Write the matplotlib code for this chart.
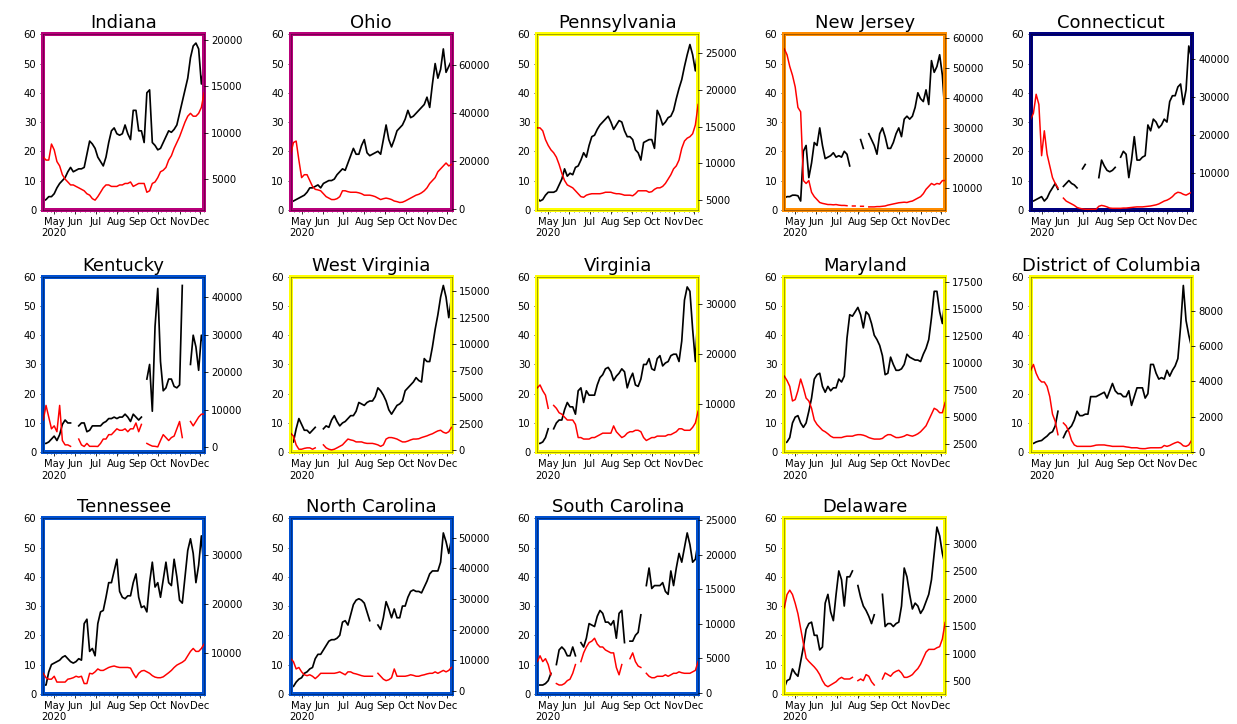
import numpy as np
import pandas as pd
import matplotlib
matplotlib.use('Agg')
import matplotlib.pyplot as plt
import matplotlib.dates as mdates
from matplotlib.ticker import MultipleLocator

nan = np.nan

# samples every 4 days, 2020-04-15 .. 2020-12-07
dates = pd.date_range('2020-04-15', periods=60, freq='4D')
month_ticks = pd.date_range('2020-05-01', '2020-12-01', freq='MS')
month_labels = ['May\n2020', 'Jun', 'Jul', 'Aug', 'Sep', 'Oct', 'Nov', 'Dec']

indiana_black = [3, 3.5, 4.5, 4.5, 5.5, 7.5, 9, 10, 11, 13, 14.5, 13, 13.5, 14, 14, 14.5, 19, 23.5, 22.5, 21,
                 18, 16.5, 15, 18, 23, 27, 28, 26, 25.5, 26, 29, 26, 24, 34, 34, 27, 27, 23, 40, 41,
                 23, 22, 20.5, 21, 23, 25, 27, 26.5, 27.5, 29, 33, 37, 41, 45, 52, 56, 57, 55, 43, 49]
indiana_red = [7370, 7050, 7050, 8780, 8150, 6890, 6420, 5470, 5000, 4690, 4370, 4370, 4210, 4060, 3900, 3740,
               3420, 3270, 2890, 2730, 3110, 3580, 4060, 4370, 4370, 4210, 4210, 4210, 4370, 4370, 4530, 4530,
               4690, 4210, 4370, 4530, 4530, 4530, 3580, 3740, 4530, 4690, 5160, 5790, 5950, 6260, 7050, 7520,
               8310, 8940, 9570, 10360, 11150, 11780, 12090, 11780, 11780, 12090, 12730, 14300]

ohio_black = [2.5, 3, 3.5, 4, 4.5, 5, 6, 7.5, 7.5, 8, 8.5, 7.5, 9, 9.5, 10, 10, 10.5, 12, 13, 14,
              13.5, 16, 18.5, 21, 19, 19, 22, 24, 19.5, 18.5, 19, 19.5, 20, 19, 24, 29, 24, 21.5, 24, 27,
              28, 29, 31, 34, 31.5, 32, 33, 34, 35, 36, 38.5, 35, 43, 50, 45, 48, 55, 47, 49, 51]
ohio_red = [22760, 27640, 28250, 20320, 13000, 14220, 14220, 11780, 9340, 8120, 7880, 7510, 6290, 5070, 4460,
            3850, 3850, 4220, 5070, 7510, 7510, 7140, 6900, 6900, 6900, 6660, 6290, 5680, 5680, 5680, 5440,
            5070, 4460, 3850, 4220, 4460, 4220, 3850, 3240, 2990, 2630, 2750, 3240, 3850, 4460, 5070, 5680,
            6050, 6660, 7510, 8730, 10560, 11780, 13000, 15440, 16660, 17880, 19100, 17880, 18490]

penn_black = [4, 3, 3.5, 5, 6, 6, 6, 6.5, 8.5, 10.5, 14, 11.5, 12.5, 12, 14.5, 15, 17, 19.5, 18, 22,
              25, 25.5, 27.5, 29, 30, 31, 32, 30, 27.5, 29, 30.5, 30, 27, 25, 25, 24, 20.5, 19.5, 17, 23,
              23.5, 24, 24, 21, 34, 32, 29, 30, 31.5, 32, 34, 38, 41.5, 44.5, 49, 53, 56.5, 53, 47.5, 56]
penn_red = [14840, 14840, 14440, 13240, 12450, 11850, 11450, 10850, 9860, 8660, 7670, 7070, 6870, 6670, 6270,
            5870, 5470, 5390, 5670, 5790, 5870, 5870, 5870, 5870, 5950, 6070, 6070, 6070, 5950, 5870, 5870,
            5790, 5670, 5670, 5670, 5590, 5870, 6270, 6270, 6270, 6270, 6070, 6150, 6470, 6670, 6670, 6870,
            7270, 7860, 8460, 9260, 9660, 10460, 12050, 13050, 13440, 13640, 14040, 15240, 18030]

nj_black = [4, 4.5, 4.5, 5, 5, 4.8, 3, 20, 22, 11, 16, 23, 22, 28, 22, 17.5, 18, 18.5, 19.5, 18,
            18.5, 18, 20, 19, 15, nan, 22, nan, 24, 21, nan, 26, 24, 22, 19, 26, 28, 25, 21, 21,
            23, 26, 28, 25, 31, 32, 31, 32, 35, 40, 38, 37, 41, 36, 51, 47, 49, 53, 46, 32]
nj_red = [56460, 54510, 50620, 47690, 43800, 36980, 35520, 12630, 11660, 12630, 8730, 7270, 6300, 5325, 5030,
          4840, 4640, 4640, 4550, 4640, 4450, 4350, 4350, 4250, nan, 4160, 4160, nan, 4060, 4060, nan, 3860,
          3860, 3860, 3960, 3960, 4060, 4160, 4450, 4640, 4840, 5030, 5230, 5325, 5420, 5325, 5620, 5810,
          6300, 6790, 7270, 8250, 9710, 10680, 11660, 11170, 11660, 11460, 12630, 12630]

ct_black = [3, 3, 3.5, 4, 4.5, 3, 4, 6, 7.5, 9, 7, nan, 8, 9, 10, 9, 8.5, 7.5, nan, 14,
            15.5, nan, nan, nan, nan, 11, 17, 15, 13.5, 13, 13.5, 14.5, nan, 18, 20, 19, 11, 17, 25, 17,
            17, 18, 18.5, 29, 27, 31, 30, 28, 29, 31, 30, 37, 39, 39, 42, 43, 36, 41, 56, 52]
ct_red = [24190, 25740, 30760, 28060, 14520, 21100, 14910, 11810, 8720, 7170, 6010, nan, 3300, 2530, 2140,
          1760, 1370, 830, 600, 440, 360, 360, 360, 360, 360, 1140, 1370, 1220, 980, 670, 600, 600, 600,
          600, 670, 670, 750, 830, 910, 980, 980, 980, 1060, 1140, 1220, 1370, 1520, 1760, 2140, 2530,
          2760, 3150, 3690, 4460, 4850, 4700, 4310, 4080, 4460, 4850]

ky_black = [3, 3, 3.5, 4.5, 5.5, 4, 6, 9.5, 11, 10, 10, nan, nan, 9, 10, 10, 7, 7.5, 9, 9,
            9, 9, 10, 10.5, 11.5, 11.5, 12, 11.5, 12, 12, 13, 12, 10.5, 13, 12, 11, 12, nan, 25, 30,
            14, 43, 56, 31, 21, 22, 25, 25, 22.5, 22, 23, 57, nan, nan, 30, 40, 36, 28, 40, 36]
ky_red = [7180, 11100, 7970, 4830, 5620, 4050, 11100, 1700, 530, 530, 140, nan, nan, 2090, 530, 100, 920,
          140, 140, 140, 100, 920, 2090, 2090, 3270, 3270, 4050, 4830, 4440, 4440, 4830, 4050, 4830, 4830,
          6400, 4050, 6010, nan, 920, 530, 200, 140, 0, 1700, 3270, 2490, 1700, 2490, 2880, 4830, 6790,
          2490, nan, nan, 6790, 5620, 6790, 7970, 8750, 8750]

wv_black = [3, 3.5, 8, 11.5, 9.5, 7.5, 7.5, 6.5, 7.5, 8.5, nan, nan, 8, 9, 8.5, 11, 12.5, 10.5, 9, 10,
            10.5, 11.5, 12.5, 12.5, 14, 17, 16.5, 16, 17, 17.5, 17.5, 19, 22, 21, 19.5, 17.5, 14.5, 13, 14.5, 16,
            16.5, 17.5, 21, 22, 23, 24, 25.5, 24.5, 24, 32, 31, 31, 36, 42, 47, 53, 57, 53, 46, 53]
wv_red = [1600, 1330, 500, 90, 90, 170, 220, 220, 90, 220, nan, nan, 500, 220, 90, 30, 90, 220, 360, 500,
          780, 1050, 970, 910, 780, 780, 780, 690, 640, 640, 640, 580, 500, 360, 500, 1050, 1190, 1190, 1130,
          1050, 910, 780, 780, 860, 970, 1050, 1050, 1080, 1190, 1270, 1350, 1460, 1550, 1690, 1820, 1880,
          1690, 1600, 1740, 2150]

va_black = [3, 3, 3.5, 5, 8, nan, 8, 10, 11, 11, 14.5, 17, 15.5, 15.5, 13, 21, 22, 17, 21, 19.5,
            19.5, 19.5, 23, 25.5, 26.5, 28.5, 29, 27.5, 24.5, 26, 27, 28.5, 27.5, 22, 25, 27, 23, 22.5, 25, 30,
            30, 32, 28.5, 28, 32, 33, 29.5, 30.5, 31, 33, 33.5, 33.5, 31, 38, 52, 56.5, 55, 42, 31, 49]
va_red = [13250, 13840, 12670, 11790, 9150, nan, 9730, 9150, 8260, 7970, 7380, 6800, 6800, 6800, 5920, 3280,
          3280, 2980, 2980, 2980, 3280, 3280, 3570, 3860, 4160, 4160, 4160, 4160, 5620, 4450, 3860, 3280,
          3570, 4160, 4450, 4450, 4740, 4740, 4450, 3280, 2690, 2980, 3280, 3280, 3570, 3570, 3570, 3570,
          3860, 3860, 4160, 4450, 5040, 5040, 4740, 4740, 4740, 5330, 6210, 8560]

md_black = [3, 3.5, 5, 10, 12, 12.5, 10, 8.5, 10, 14, 18.5, 25, 26.5, 27, 22.5, 20.5, 22.5, 21, 22, 22,
            25, 24, 26, 39, 47, 46.5, 48, 49.5, 47, 42.5, 48, 47, 44, 40, 38.5, 36.5, 33, 26.5, 27, 32.5,
            30, 28, 28, 28.5, 30, 33.5, 32.5, 32, 31.5, 31.5, 31, 33.5, 35.5, 38.5, 46, 55, 55, 48, 44, 53]
md_red = [8790, 8380, 7840, 6480, 6610, 7430, 8520, 7700, 6750, 6480, 5800, 4710, 4300, 4030, 3760, 3620,
          3430, 3210, 3080, 3080, 3080, 3080, 3160, 3210, 3210, 3210, 3300, 3350, 3350, 3300, 3210, 3080,
          3000, 2940, 2940, 2940, 3000, 3210, 3350, 3350, 3210, 3080, 3080, 3130, 3210, 3350, 3270, 3210,
          3300, 3430, 3620, 3890, 4170, 4710, 5250, 5800, 5660, 5390, 5390, 6340]

dc_black = [3, 3, 3.5, 3.8, 4, 4.8, 5.5, 6.5, 7, 9, 14, nan, 5, 7, 8, 9, 11, 14, 12.5, 12.5,
            13, 13, 19, 19, 19, 19.5, 20, 20.5, 18.5, 21, 23.5, 21, 20, 20, 19, 19, 21, 16, 19, 22,
            22, 22, 18.5, 20, 30, 30, 27, 25, 25.5, 25, 28, 26, 28, 29.5, 32, 43, 57, 45, 40, 36]
dc_red = [4630, 4960, 4460, 4130, 3970, 3970, 3720, 3140, 2150, 1740, 990, nan, 1650, 1490, 1160, 660, 410,
          330, 330, 330, 330, 330, 330, 360, 400, 410, 410, 410, 380, 360, 330, 330, 330, 330, 330, 300,
          280, 250, 250, 250, 210, 200, 200, 230, 250, 250, 250, 250, 260, 380, 330, 380, 460, 530, 580,
          500, 360, 330, 410, 660]

tn_black = [3, 3, 7.5, 10, 10.5, 11, 11.5, 12.5, 13, 12, 11, 10.5, 11, 12, 11.5, 24, 25.5, 14.5, 15.5, 13,
            24, 28, 28.5, 33, 38, 38, 42, 46, 35, 33, 32.5, 33.5, 33.5, 38, 41, 33, 29.5, 30, 28, 38,
            45, 36.5, 38, 33, 39, 45, 38, 37, 46, 40, 32, 31, 40, 49, 53, 48, 38, 44, 54, 42]
tn_red = [5840, 4940, 4640, 4640, 5240, 4050, 4050, 4050, 4050, 4640, 4760, 4940, 5240, 5060, 5240, 3750,
          3750, 5840, 5720, 6140, 6730, 6430, 6430, 6730, 7030, 7210, 7330, 7150, 7030, 7030, 7030, 7030,
          6910, 5840, 4940, 5840, 6310, 6430, 6140, 5840, 5360, 5060, 4940, 4940, 5120, 5540, 5960, 6430,
          7030, 7510, 7810, 8100, 8520, 9420, 10310, 10910, 10310, 10310, 10910, 11800]

nc_black = [3, 2.5, 4, 5, 5.5, 7, 7.5, 8.5, 9, 12, 13.5, 13.5, 15, 16.5, 18, 18.5, 18.5, 19, 20, 24.5,
            25, 23.5, 27, 30.5, 32, 32.5, 32, 31, 28, 25, nan, nan, 23.5, 22, 26, 31.5, 29, 26, 29, 26,
            26, 30, 30, 33, 35, 35.5, 35, 35, 34.5, 36.5, 38.5, 41, 42, 42, 42, 45, 55, 52, 48, 53]
nc_red = [10500, 9540, 7150, 7630, 6190, 5240, 4950, 5240, 4760, 3990, 4760, 5720, 5720, 5720, 5720, 5720,
          5720, 5910, 6190, 5720, 5240, 6190, 6190, 5720, 5520, 5240, 4950, 4760, 4760, 4760, 4760, nan,
          5720, 4760, 3800, 3320, 3610, 4280, 7150, 4760, 4760, 4760, 4760, 4950, 5240, 5050, 4760, 4760,
          5050, 5240, 5520, 5720, 5720, 6190, 5720, 6190, 6670, 6190, 6670, 7630]

sc_black = [3, 3, 3, 3.5, 4.5, 7, nan, 10, 15, 16, 15, 13, 13, 16, 13, nan, 17.5, 16, 19, 24,
            23.5, 23, 26.5, 28.5, 27.5, 24.5, 24.5, 23.5, 25, 19, 27.5, 28.5, 17.5, nan, 18, 18, 20, 21, 27, nan,
            37, 43, 36, 37, 37, 37, 38, 35, 34, 42, 37, 43, 48, 45, 50, 55, 51, 45, 46, 52]
sc_red = [4550, 5390, 4550, 4970, 4120, 2640, nan, 1380, 1170, 1170, 1380, 1800, 2010, 2860, 4120, nan, 4550,
          5810, 6660, 7290, 7500, 7920, 7080, 6660, 6660, 6230, 6020, 5810, 5810, 3700, 2640, 4120, nan, nan,
          4970, 5810, 4550, 3910, 3700, nan, 2860, 2430, 2220, 2220, 2430, 2430, 2430, 2640, 2430, 2640,
          2860, 2860, 3070, 2940, 2860, 2860, 2860, 3070, 3280, 4550]

de_black = [2, 4.5, 5, 8.5, 7, 6, 11, 16, 22, 24, 24.5, 20, 20, 15, 16, 31, 34, 28, 25, 34,
            42, 39, 30, 40, 40, 42, nan, 37, 33, 30, 28.5, 26.5, 24, 27, nan, nan, 34, 23, 24, 24,
            23, 24, 24.5, 30, 43, 40, 34, 29, 31, 30, 27.5, 29, 31.5, 34, 39, 48, 57, 54, 48, 44]
de_red = [1840, 2080, 2160, 2080, 1920, 1730, 1460, 1190, 920, 860, 810, 760, 700, 620, 510, 430, 400, 430,
          460, 490, 540, 570, 540, 540, 540, 570, nan, 510, 540, 510, 620, 590, 490, 430, nan, nan, 540,
          650, 620, 590, 650, 680, 700, 650, 570, 570, 590, 620, 680, 730, 810, 920, 1030, 1080, 1080,
          1080, 1110, 1130, 1270, 1570]

states = ['Indiana', 'Ohio', 'Pennsylvania', 'New Jersey', 'Connecticut',
          'Kentucky', 'West Virginia', 'Virginia', 'Maryland', 'District of Columbia',
          'Tennessee', 'North Carolina', 'South Carolina', 'Delaware']
black_series = [indiana_black, ohio_black, penn_black, nj_black, ct_black,
                ky_black, wv_black, va_black, md_black, dc_black,
                tn_black, nc_black, sc_black, de_black]
red_series = [indiana_red, ohio_red, penn_red, nj_red, ct_red,
              ky_red, wv_red, va_red, md_red, dc_red,
              tn_red, nc_red, sc_red, de_red]

# frame colour, right axis limits and tick step per state
magenta, yellow, orange, navy, blue = '#b8007a', '#ffff00', '#ff8c00', '#000080', '#0050d0'
frame_colors = [magenta, magenta, yellow, orange, navy,
                blue, yellow, yellow, yellow, yellow,
                blue, blue, blue, yellow]
right_limits = [(1690, 20610), (-420, 72780), (3680, 27590), (2890, 61330), (210, 46620),
                (-1430, 45550), (-190, 16360), (340, 35570), (1720, 18030), (0, 9920),
                (1660, 37460), (-980, 56410), (-100, 25240), (270, 3470)]
right_steps = [5000, 20000, 5000, 10000, 10000,
               10000, 2500, 10000, 2500, 2000,
               10000, 10000, 5000, 500]

W, H = 1237, 724
fig = plt.figure(figsize=(W / 72, H / 72), dpi=72)

col_left = [43.3, 290.7, 537.3, 784.3, 1030.7]
row_top = [34.3, 276.7, 518.3]
ax_w, ax_h = 160.8, 175.5

for i, name in enumerate(states):
    r, c = divmod(i, 5)
    ax = fig.add_axes([col_left[c] / W, 1 - (row_top[r] + ax_h) / H, ax_w / W, ax_h / H])
    ax.plot(dates, black_series[i], color='black', lw=1.7)
    ax.set_ylim(0, 60)
    ax.set_yticks(range(0, 61, 10))
    ax.set_xlim(dates[0], dates[-1])
    ax.set_xticks(month_ticks, labels=month_labels)
    ax.xaxis.set_minor_locator(mdates.WeekdayLocator(byweekday=mdates.MO))
    ax.tick_params(labelsize=10)
    for sp in ax.spines.values():
        sp.set_edgecolor(frame_colors[i])
        sp.set_linewidth(4)
    ax.set_title(name, fontsize=18)

    ax2 = ax.twinx()
    ax2.plot(dates, red_series[i], color='red', lw=1.5)
    ax2.set_ylim(*right_limits[i])
    ax2.yaxis.set_major_locator(MultipleLocator(right_steps[i]))
    ax2.tick_params(labelsize=10)
    for sp in ax2.spines.values():
        sp.set_visible(True)
        sp.set_edgecolor('black')
        sp.set_linewidth(0.5)
        sp.set_alpha(0.7)

fig.savefig('out.png', dpi=72)
